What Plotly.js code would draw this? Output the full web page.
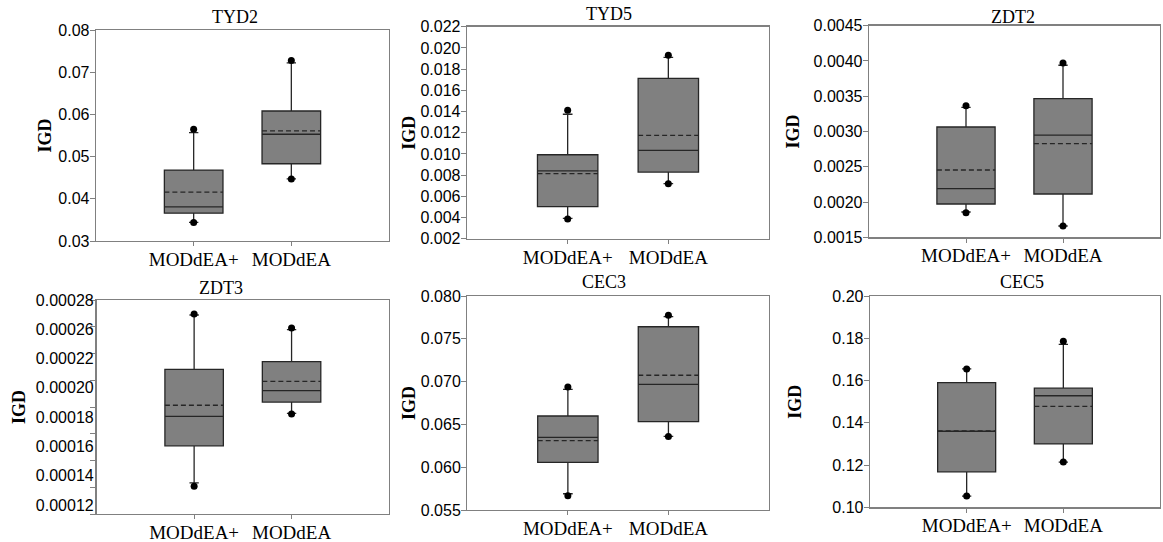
<!DOCTYPE html>
<html><head><meta charset="utf-8">
<script src="https://cdn.plot.ly/plotly-3.0.1.min.js"></script>
<style>html,body{margin:0;padding:0;background:#fff}#chart{width:1163px;height:542px}</style>
</head><body><div id="chart"></div>
<script>
// ---------------- data ----------------
const categories = ['MODdEA+', 'MODdEA'];
const panels = ['TYD2', 'TYD5', 'ZDT2', 'ZDT3', 'CEC3', 'CEC5'];
// each entry: [MODdEA+, MODdEA], one entry per panel (same order as panels)
const q1 = [[0.0366, 0.0483], [0.00502, 0.00829], [0.001972, 0.002114], [0.000171, 0.0002037], [0.06057, 0.06532], [0.1168, 0.1300]];
const median = [[0.0381, 0.0553], [0.00839, 0.01034], [0.002189, 0.002950], [0.000193, 0.0002122], [0.06349, 0.06968], [0.1360, 0.1528]];
const q3 = [[0.0468, 0.0608], [0.00992, 0.01713], [0.003064, 0.003465], [0.0002282, 0.0002339], [0.06598, 0.07641], [0.1590, 0.1564]];
const mean = [[0.0416, 0.0561], [0.00813, 0.01175], [0.002454, 0.002827], [0.0002013, 0.0002192], [0.0631, 0.07074], [0.1362, 0.1478]];
const lowerWhisker = [[0.0344, 0.0447], [0.00392, 0.00719], [0.001859, 0.00166], [0.0001432, 0.0001953], [0.0569, 0.0636], [0.1053, 0.1214]];
const upperWhisker = [[0.0557, 0.0722], [0.01374, 0.01911], [0.003343, 0.003939], [0.0002688, 0.0002578], [0.0691, 0.07758], [0.1655, 0.1771]];
const minimum = [[0.0344, 0.0447], [0.00386, 0.00719], [0.001849, 0.00166], [0.0001407, 0.0001948], [0.05667, 0.0636], [0.1053, 0.1214]];
const maximum = [[0.0565, 0.0728], [0.01411, 0.0193], [0.003366, 0.003971], [0.0002695, 0.0002591], [0.06937, 0.07775], [0.1655, 0.1786]];
// axis scales and tick labels
const yRanges = [[0.03, 0.08], [0.002, 0.022], [0.0015, 0.0045], [0.00012, 0.00028], [0.055, 0.080], [0.10, 0.20]];
const yDticks = [0.01, 0.002, 0.0005, 0.00002, 0.005, 0.02];
const yFormats = ['.2f', '.3f', '.4f', '.5f', '.3f', '.2f'];
const zdt3TickText = ['0.00028', '0.00026', '0.00022', '0.00020', '0.00018', '0.00016', '0.00014', '0.00012'];
const yTitle = 'IGD';

// ---------------- layout geometry (pixels) ----------------
const W = 1163, H = 542;
const boxes = [
  {x: [96, 389], y: [30, 241]},
  {x: [467, 769], y: [26.7, 238.7]},
  {x: [869, 1160], y: [25.7, 237.3]},
  {x: [96.7, 389], y: [300, 514]},
  {x: [467.3, 769], y: [296, 510]},
  {x: [870, 1160], y: [296, 507.3]}
];
const titlePos = [[235, 17], [609, 14], [1013, 17.5], [221, 287.5], [604, 282], [1022, 282]];
const standoffs = [2, 0, 9, 5, 0, 26];

const serif = 'Liberation Serif, Times New Roman, serif';
const sans = 'Liberation Sans, Arial, sans-serif';
const frameColor = '#808080';

const data = [];
const layout = {
  width: W, height: H,
  margin: {l: 0, r: 0, t: 0, b: 0},
  paper_bgcolor: '#fff', plot_bgcolor: '#fff',
  showlegend: false,
  annotations: []
};

panels.forEach((name, i) => {
  const n = i + 1;
  const xa = 'x' + n, ya = 'y' + n;
  data.push({
    type: 'box', name: name, x: categories,
    q1: q1[i], median: median[i], q3: q3[i], mean: mean[i],
    lowerfence: lowerWhisker[i], upperfence: upperWhisker[i],
    boxmean: true, boxpoints: false,
    width: 0.6, whiskerwidth: 0.16,
    fillcolor: '#808080',
    line: {color: '#262626', width: 1.3},
    xaxis: xa, yaxis: ya, hoverinfo: 'skip', showlegend: false
  });
  data.push({
    type: 'scatter', mode: 'markers',
    x: categories.concat(categories),
    y: minimum[i].concat(maximum[i]),
    marker: {color: '#000', size: 7},
    cliponaxis: false,
    xaxis: xa, yaxis: ya, hoverinfo: 'skip', showlegend: false
  });
  const b = boxes[i];
  layout['xaxis' + n] = {
    domain: [b.x[0] / W, b.x[1] / W],
    anchor: ya, type: 'category', categoryarray: categories,
    range: [-1, 2], showgrid: false, zeroline: false,
    showline: true, mirror: true, linecolor: frameColor, linewidth: 1.3,
    ticks: 'outside', ticklen: 4, tickcolor: frameColor,
    ticklabelstandoff: -3,
    tickfont: {family: serif, size: 19, color: '#000'}
  };
  const yax = {
    domain: [1 - b.y[1] / H, 1 - b.y[0] / H],
    anchor: xa, range: yRanges[i], tick0: yRanges[i][0], dtick: yDticks[i],
    tickformat: yFormats[i], showgrid: false, zeroline: false,
    showline: true, mirror: true, linecolor: frameColor, linewidth: 1.3,
    ticks: 'outside', ticklen: 5, tickcolor: frameColor,
    ticklabelstandoff: -3,
    tickfont: {family: sans, size: 16, color: '#000'}
  };
  const titleObj = {text: yTitle, standoff: standoffs[i], font: {family: serif, size: 18, color: '#000', weight: 'bold'}};
  if (name === 'ZDT3') {
    yax.showticklabels = false;
    layout['yaxis' + n] = yax;
    const r = yRanges[i];
    const top = r[1], bot = r[0] + 0.0000067;
    const step = (top - bot) / (zdt3TickText.length - 1);
    layout.yaxis7 = {
      overlaying: ya, anchor: xa, side: 'left', range: [r[0], r[1] + 1e-9],
      tickmode: 'array', tickvals: zdt3TickText.map((t, k) => top - k * step),
      ticktext: zdt3TickText, ticks: '', ticklen: 5,
      ticklabelstandoff: 2,
      showline: false, showgrid: false, zeroline: false,
      tickfont: {family: sans, size: 16, color: '#000'},
      title: titleObj
    };
    // empty helper trace so the label axis of ZDT3 is drawn
    data.push({type: 'scatter', mode: 'markers', x: [], y: [], xaxis: xa, yaxis: 'y7', hoverinfo: 'skip', showlegend: false});
  } else {
    yax.title = titleObj;
    layout['yaxis' + n] = yax;
  }
  layout.annotations.push({
    text: name, xref: 'paper', yref: 'paper',
    x: titlePos[i][0] / W, y: 1 - titlePos[i][1] / H,
    xanchor: 'center', yanchor: 'middle', showarrow: false,
    font: {family: serif, size: 18, color: '#000'}
  });
});

Plotly.newPlot('chart', data, layout, {staticPlot: true}).then(gd => {
  gd.querySelectorAll('path.mean').forEach(p => { p.style.strokeDasharray = '5px,3px'; });
});
</script>
</body></html>
